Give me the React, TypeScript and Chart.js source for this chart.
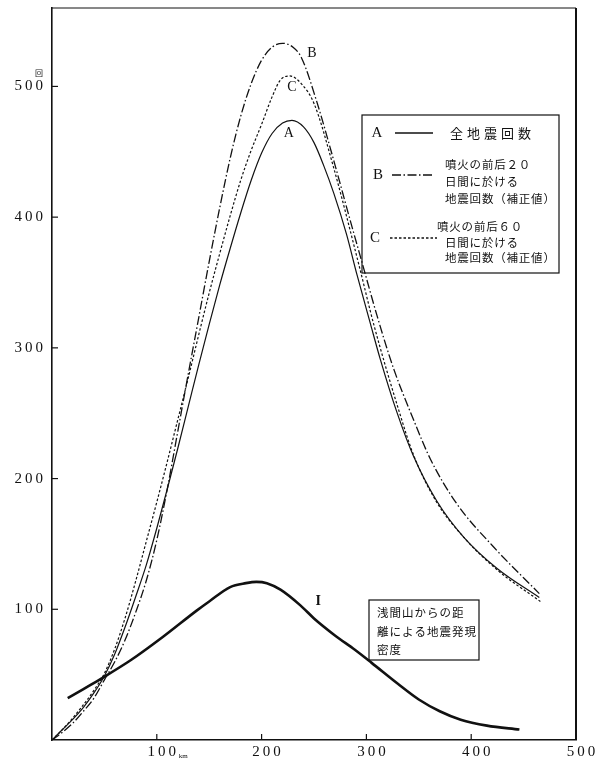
import React, { useEffect, useRef } from 'react';
import { Chart, registerables } from 'chart.js';

Chart.register(...registerables);

// Curve A: all earthquakes
const distA = [0, 10, 20, 30, 40, 50, 60, 70, 80, 90, 100, 110, 120, 130, 140, 150, 160, 170, 180, 190, 200, 210, 220, 229, 240, 250, 259, 269, 281, 291, 304, 313, 329, 345, 367, 393, 425, 465];
const countA = [0, 8, 16, 25, 36, 49, 66, 87, 110, 134, 162, 192, 223, 255, 287, 318, 348, 376, 403, 428, 449, 464, 472, 474, 469, 457, 440, 418, 387, 356, 318, 292, 251, 217, 183, 155, 131, 109];

// Curve B: 20 days before/after eruption (corrected)
const distB = [0, 10, 20, 30, 40, 50, 60, 70, 80, 90, 100, 110, 120, 130, 140, 150, 160, 170, 180, 190, 200, 210, 220, 230, 238, 252, 270, 283, 297, 310, 326, 345, 361, 386, 421, 465];
const countB = [0, 6, 13, 22, 32, 46, 60, 77, 98, 122, 153, 192, 236, 280, 323, 366, 407, 445, 477, 502, 520, 530, 533, 530, 522, 490, 440, 402, 362, 325, 284, 245, 215, 181, 148, 112];

// Curve C: 60 days before/after eruption (corrected)
const distC = [0, 10, 20, 30, 40, 50, 60, 70, 80, 90, 100, 110, 120, 130, 140, 150, 160, 170, 180, 190, 200, 210, 218, 227, 238, 250, 268, 293, 307, 331, 345, 367, 393, 425, 466];
const countC = [0, 8, 17, 27, 38, 51, 70, 94, 122, 152, 182, 213, 245, 277, 310, 342, 372, 401, 428, 451, 471, 492, 505, 508, 502, 487, 440, 363, 318, 252, 218, 182, 155, 130, 106];

// Curve I: density by distance from Asama
const distI = [15, 30, 47, 75, 106, 138, 150, 170, 185, 195, 205, 218, 237, 250, 270, 289, 305, 330, 350, 370, 390, 415, 446];
const countI = [32, 39, 47, 61, 79, 99, 106, 117, 120, 121, 120, 115, 103, 93, 80, 69, 59, 43, 31, 22, 15.5, 11, 8];

const xTickValues = [100, 200, 300, 400, 500];
const yTickValues = [100, 200, 300, 400, 500];

const curveLabels = ['A', 'B', 'C', 'I'];
const curveLabelX = [226, 248, 229, 254];
const curveLabelY = [464, 525, 499, 106];

const legendLetters = ['A', 'B', 'C'];
const legendTextA = ['全地震回数'];
const legendTextB = ['噴火の前后２０', '日間に於ける', '地震回数（補正値）'];
const legendTextC = ['噴火の前后６０', '日間に於ける', '地震回数（補正値）'];
const densityNote = ['浅間山からの距', '離による地震発現', '密度'];

const INK = '#111';
const DASH_B = [9, 2.5, 1.5, 2.5];
const DASH_C = [2.5, 2];
const CJK = "'Noto Sans CJK JP', sans-serif";
const SERIF = "'Liberation Serif', 'DejaVu Serif', serif";

function pts(xs: number[], ys: number[]) {
  return xs.map((x, i) => ({ x, y: ys[i] }));
}

function spaced(ctx: any, text: string, x: number, y: number, spacing: number) {
  ctx.letterSpacing = spacing + 'px';
  ctx.fillText(text, x, y);
  ctx.letterSpacing = '0px';
}

const overlay = {
  id: 'overlay',
  afterDraw(chart: any) {
    const { ctx, chartArea: ca, scales } = chart;
    const xs = scales.x;
    const ys = scales.y;
    ctx.save();
    ctx.strokeStyle = INK;
    ctx.fillStyle = INK;

    // frame top & right
    ctx.lineWidth = 1;
    ctx.beginPath();
    ctx.moveTo(ca.left, ca.top);
    ctx.lineTo(ca.right, ca.top);
    ctx.stroke();
    ctx.lineWidth = 2;
    ctx.beginPath();
    ctx.moveTo(ca.right, ca.top);
    ctx.lineTo(ca.right, ca.bottom);
    ctx.stroke();

    // inward ticks
    ctx.lineWidth = 1.2;
    yTickValues.forEach((v) => {
      const py = ys.getPixelForValue(v);
      ctx.beginPath();
      ctx.moveTo(ca.left, py);
      ctx.lineTo(ca.left + 6, py);
      ctx.stroke();
    });
    xTickValues.forEach((v) => {
      const px = xs.getPixelForValue(v);
      ctx.beginPath();
      ctx.moveTo(px, ca.bottom);
      ctx.lineTo(px, ca.bottom - 6);
      ctx.stroke();
    });

    // unit marks
    ctx.font = `8px ${CJK}`;
    ctx.textAlign = 'center';
    ctx.textBaseline = 'middle';
    ctx.fillText('回', ca.left - 13, ys.getPixelForValue(500) - 13);
    ctx.font = `7px ${SERIF}`;
    ctx.textAlign = 'left';
    ctx.fillText('km', xs.getPixelForValue(100) + 22, ca.bottom + 16);

    // curve labels
    curveLabels.forEach((t, i) => {
      ctx.font = (t === 'I' ? 'bold ' : '') + `14px ${SERIF}`;
      ctx.textAlign = 'center';
      ctx.textBaseline = 'middle';
      ctx.fillText(t, xs.getPixelForValue(curveLabelX[i]), ys.getPixelForValue(curveLabelY[i]));
    });

    // legend box
    const bx = ca.left + 310;
    const by = ca.top + 107;
    ctx.lineWidth = 1.2;
    ctx.setLineDash([]);
    ctx.strokeRect(bx, by, 197, 158);

    const rowY = [by + 18, by + 60, by + 123];
    const letterX = [bx + 15, bx + 16, bx + 13];
    const sampleX0 = [bx + 33, bx + 30, bx + 28];
    const sampleX1 = [bx + 71, bx + 71, bx + 75];
    const dashes = [[], DASH_B, DASH_C];
    legendLetters.forEach((t, i) => {
      ctx.font = `15px ${SERIF}`;
      ctx.textAlign = 'center';
      ctx.textBaseline = 'middle';
      ctx.fillText(t, letterX[i], rowY[i]);
      ctx.setLineDash(dashes[i]);
      ctx.lineWidth = 1.3;
      ctx.beginPath();
      ctx.moveTo(sampleX0[i], rowY[i]);
      ctx.lineTo(sampleX1[i], rowY[i]);
      ctx.stroke();
    });
    ctx.setLineDash([]);
    ctx.textAlign = 'left';
    ctx.textBaseline = 'middle';
    ctx.font = `13px ${CJK}`;
    spaced(ctx, legendTextA[0], bx + 88, rowY[0], 4);
    ctx.font = `11.5px ${CJK}`;
    legendTextB.forEach((t, i) => spaced(ctx, t, bx + 83, by + 50 + i * 17, 0.8));
    legendTextC.forEach((t, i) => spaced(ctx, t, i === 0 ? bx + 75 : bx + 83, by + 112 + i * 15.5, 0.8));

    // density note box
    const nx = ca.left + 317;
    const ny = ca.top + 592;
    ctx.lineWidth = 1.2;
    ctx.strokeRect(nx, ny, 110, 60);
    ctx.font = `11.5px ${CJK}`;
    densityNote.forEach((t, i) => spaced(ctx, t, nx + 8, ny + 13 + i * 18.3, 1));

    ctx.restore();
  },
};

export default function App() {
  const ref = useRef<HTMLCanvasElement | null>(null);

  useEffect(() => {
    document.body.style.margin = '0';
    const canvas = ref.current;
    if (!canvas) return;
    const labelFmt = (v: any) => String(v).split('').join('\u2009');
    const chart = new Chart(canvas, {
      type: 'line',
      data: {
        datasets: [
          { label: 'I', data: pts(distI, countI), borderColor: INK, borderWidth: 2.6, pointRadius: 0, cubicInterpolationMode: 'monotone', fill: false },
          { label: 'A', data: pts(distA, countA), borderColor: INK, borderWidth: 1.2, pointRadius: 0, cubicInterpolationMode: 'monotone', fill: false },
          { label: 'B', data: pts(distB, countB), borderColor: INK, borderWidth: 1.3, borderDash: DASH_B, pointRadius: 0, cubicInterpolationMode: 'monotone', fill: false },
          { label: 'C', data: pts(distC, countC), borderColor: INK, borderWidth: 1.2, borderDash: DASH_C, pointRadius: 0, cubicInterpolationMode: 'monotone', fill: false },
        ],
      },
      options: {
        responsive: false,
        animation: false,
        layout: { padding: { left: 0, top: 8, right: 20, bottom: 0 } },
        plugins: { legend: { display: false }, tooltip: { enabled: false } },
        scales: {
          x: {
            type: 'linear',
            min: 0,
            max: 500,
            grid: { display: false, drawTicks: false },
            border: { display: true, color: INK, width: 1.6 },
            afterBuildTicks: (s: any) => { s.ticks = xTickValues.map((v) => ({ value: v })); },
            afterFit: (s: any) => { s.height = 20; s.paddingLeft = 0; s.paddingRight = 0; s.paddingTop = 0; s.paddingBottom = 0; },
            ticks: {
              callback: labelFmt,
              color: INK,
              font: { family: SERIF, size: 15 },
              padding: 3,
              labelOffset: 5,
              maxRotation: 0,
              autoSkip: false,
            },
          },
          y: {
            type: 'linear',
            min: 0,
            max: 560,
            grid: { display: false, drawTicks: false },
            border: { display: true, color: INK, width: 1.6 },
            afterBuildTicks: (s: any) => { s.ticks = yTickValues.map((v) => ({ value: v })); },
            afterFit: (s: any) => { s.width = 52; s.paddingLeft = 0; s.paddingRight = 0; s.paddingTop = 0; s.paddingBottom = 0; },
            ticks: {
              callback: labelFmt,
              color: INK,
              font: { family: SERIF, size: 15 },
              padding: 9,
              autoSkip: false,
            },
          },
        },
      },
      plugins: [overlay],
    } as any);
    return () => chart.destroy();
  }, []);

  return <canvas ref={ref} width={596} height={760} style={{ display: 'block' }} />;
}
